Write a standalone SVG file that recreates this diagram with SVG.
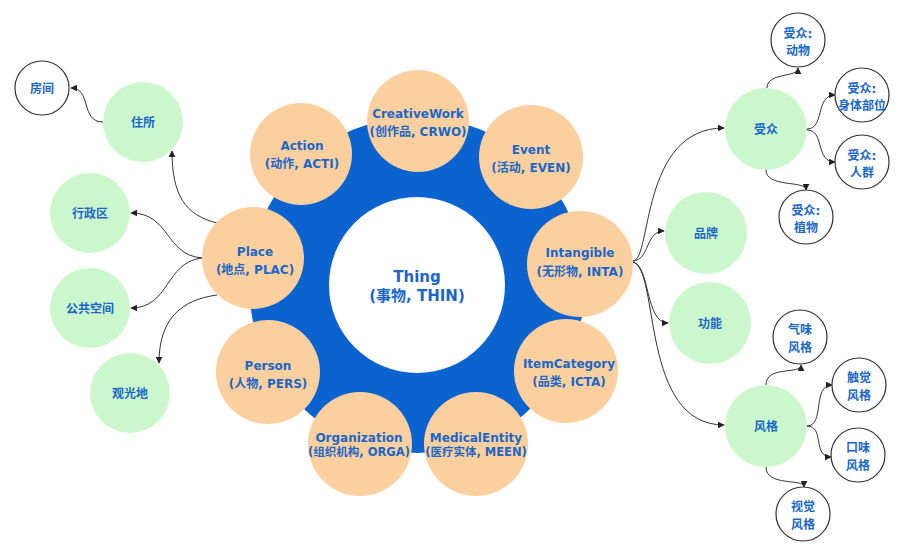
<svg xmlns="http://www.w3.org/2000/svg" width="905" height="547" viewBox="0 0 905 547">
<defs>
<style>
.t{font-family:"DejaVu Sans","Noto Sans CJK SC",sans-serif;font-weight:bold;fill:#1a67c7;text-anchor:middle;}
.s12{font-size:12px;}
.s11{font-size:11.5px;}
.s15{font-size:15px;}
.peach{fill:#fccf9f;}
.green{fill:#ccf7cc;}
.leaf{fill:#ffffff;stroke:#333333;stroke-width:1.2;}
.c{fill:none;stroke:#333333;stroke-width:1;marker-end:url(#ah);}
</style>
<marker id="ah" viewBox="0 0 10 10" refX="9" refY="5" markerWidth="7" markerHeight="7" markerUnits="userSpaceOnUse" orient="auto">
<path d="M0,0 L10,5 L0,10 z" fill="#222222"/>
</marker>
</defs>
<rect width="905" height="547" fill="#ffffff"/>
<g id="ring">
<circle cx="417" cy="285" r="168" fill="#0b63cf"/>
</g>
<g id="connectors">
<path class="c" d="M217,223 C185,215 172,195 172,151"/>
<path class="c" d="M103,122 C80,122 92,88 71,88"/>
<path class="c" d="M202,258 C165,255 170,213 131,213"/>
<path class="c" d="M202,258 C165,262 170,308 131,308"/>
<path class="c" d="M217,295 C180,300 159,320 159,363"/>
<path class="c" d="M633,261 C652,260 640,128 724,128"/>
<path class="c" d="M633,261 C650,260 645,231 664,231"/>
<path class="c" d="M633,262 C650,265 645,323 668,323"/>
<path class="c" d="M633,262 C660,270 640,425 724,425"/>
<path class="c" d="M767,88 C767,72 798,78 798,68"/>
<path class="c" d="M807,129 C825,129 815,95 835,95"/>
<path class="c" d="M807,130 C825,130 815,162 835,162"/>
<path class="c" d="M766,170 C766,188 806,180 806,190"/>
<path class="c" d="M766,385 C766,365 801,375 801,365"/>
<path class="c" d="M807,426 C825,426 812,385 832,385"/>
<path class="c" d="M807,426 C825,426 812,457 831,457"/>
<path class="c" d="M766,467 C766,487 804,478 804,487"/>
</g>
<g id="thing">
<circle cx="417" cy="285" r="88" fill="#ffffff"/>
<text class="t s15" x="417" y="282">Thing</text>
<text class="t s15" x="417" y="301">(事物, THIN)</text>
</g>
<g id="creativework">
<circle class="peach" cx="418" cy="121" r="51"/>
<text class="t s12" x="418" y="118">CreativeWork</text>
<text class="t s12" x="418" y="136">(创作品, CRWO)</text>
</g>
<g id="action">
<circle class="peach" cx="301" cy="154" r="51"/>
<text class="t s12" x="302" y="150">Action</text>
<text class="t s12" x="302" y="168">(动作, ACTI)</text>
</g>
<g id="event">
<circle class="peach" cx="531" cy="157" r="52"/>
<text class="t s12" x="531" y="154">Event</text>
<text class="t s12" x="531" y="172">(活动, EVEN)</text>
</g>
<g id="intangible">
<circle class="peach" cx="580" cy="264" r="53"/>
<text class="t s12" x="580" y="257">Intangible</text>
<text class="t s12" x="580" y="276">(无形物, INTA)</text>
</g>
<g id="itemcategory">
<circle class="peach" cx="566" cy="371" r="52"/>
<text class="t s12" x="569" y="368">ItemCategory</text>
<text class="t s12" x="569" y="386">(品类, ICTA)</text>
</g>
<g id="medicalentity">
<circle class="peach" cx="476" cy="444" r="52"/>
<text class="t s12" x="476" y="442">MedicalEntity</text>
<text class="t s11" x="476" y="456">(医疗实体, MEEN)</text>
</g>
<g id="organization">
<circle class="peach" cx="360" cy="444" r="52"/>
<text class="t s12" x="359" y="442">Organization</text>
<text class="t s11" x="359" y="456">(组织机构, ORGA)</text>
</g>
<g id="person">
<circle class="peach" cx="268" cy="372" r="52"/>
<text class="t s12" x="268" y="370">Person</text>
<text class="t s12" x="268" y="388">(人物, PERS)</text>
</g>
<g id="place">
<circle class="peach" cx="253" cy="258" r="51"/>
<text class="t s12" x="255" y="256">Place</text>
<text class="t s12" x="255" y="274">(地点, PLAC)</text>
</g>
<g id="zhusuo">
<circle class="green" cx="143" cy="122" r="40"/>
<text class="t s12" x="143" y="127">住所</text>
</g>
<g id="fangjian">
<circle class="leaf" cx="42" cy="88" r="27"/>
<text class="t s12" x="42" y="93">房间</text>
</g>
<g id="xingzhengqu">
<circle class="green" cx="90" cy="213" r="40"/>
<text class="t s12" x="90" y="218">行政区</text>
</g>
<g id="gonggongkongjian">
<circle class="green" cx="90" cy="308" r="40"/>
<text class="t s12" x="90" y="313">公共空间</text>
</g>
<g id="guanguangdi">
<circle class="green" cx="130" cy="393" r="40"/>
<text class="t s12" x="130" y="398">观光地</text>
</g>
<g id="shouzhong">
<circle class="green" cx="766" cy="129" r="41"/>
<text class="t s12" x="766" y="134">受众</text>
</g>
<g id="pinpai">
<circle class="green" cx="706" cy="233" r="41"/>
<text class="t s12" x="706" y="238">品牌</text>
</g>
<g id="gongneng">
<circle class="green" cx="710" cy="323" r="41"/>
<text class="t s12" x="710" y="328">功能</text>
</g>
<g id="fengge">
<circle class="green" cx="766" cy="426" r="41"/>
<text class="t s12" x="766" y="431">风格</text>
</g>
<g id="sz-dongwu">
<circle class="leaf" cx="798" cy="40" r="27"/>
<text class="t s12" x="798" y="38">受众:</text>
<text class="t s12" x="798" y="55">动物</text>
</g>
<g id="sz-shenti">
<circle class="leaf" cx="862" cy="95" r="27"/>
<text class="t s12" x="862" y="93">受众:</text>
<text class="t s12" x="862" y="110">身体部位</text>
</g>
<g id="sz-renqun">
<circle class="leaf" cx="862" cy="162" r="27"/>
<text class="t s12" x="862" y="160">受众:</text>
<text class="t s12" x="862" y="177">人群</text>
</g>
<g id="sz-zhiwu">
<circle class="leaf" cx="806" cy="217" r="27"/>
<text class="t s12" x="806" y="215">受众:</text>
<text class="t s12" x="806" y="232">植物</text>
</g>
<g id="fg-qiwei">
<circle class="leaf" cx="800" cy="337" r="27"/>
<text class="t s12" x="800" y="334">气味</text>
<text class="t s12" x="800" y="352">风格</text>
</g>
<g id="fg-chujue">
<circle class="leaf" cx="859" cy="385" r="27"/>
<text class="t s12" x="859" y="382">触觉</text>
<text class="t s12" x="859" y="400">风格</text>
</g>
<g id="fg-kouwei">
<circle class="leaf" cx="858" cy="455" r="27"/>
<text class="t s12" x="858" y="452">口味</text>
<text class="t s12" x="858" y="470">风格</text>
</g>
<g id="fg-shijue">
<circle class="leaf" cx="803" cy="514" r="27"/>
<text class="t s12" x="803" y="511">视觉</text>
<text class="t s12" x="803" y="529">风格</text>
</g>
</svg>
